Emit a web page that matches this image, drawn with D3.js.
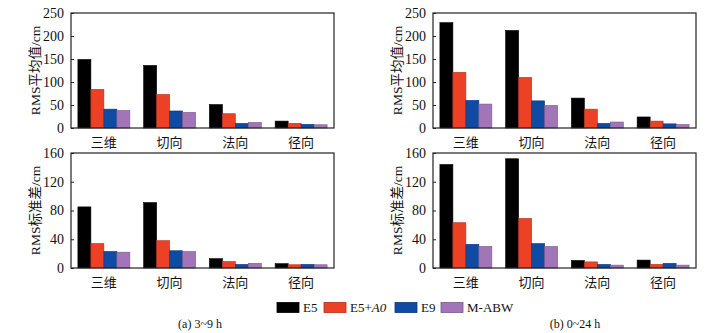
<!DOCTYPE html>
<html>
<head>
<meta charset="utf-8">
<script src="https://cdn.jsdelivr.net/npm/d3@7"></script>
<style>
  body { margin: 0; background: #fff; }
  text { font-family: "Liberation Serif", "Noto Sans CJK SC", serif; fill: #111; }
</style>
</head>
<body>
<div id="chart"></div>
<script>
// categories and series
var categories = ["三维", "切向", "法向", "径向"]
var seriesNames = ["E5", "E5+A0", "E9", "M-ABW"]
var colors = ["#000000", "#ec4124", "#0f4aa3", "#a275b8"]

// (a) 3~9 h
var meanA = [
    [149, 136, 51, 15],
    [84, 73, 31, 10],
    [41, 37, 10, 8],
    [38, 34, 12, 7]
]
var stdA = [
    [85, 91, 13, 6],
    [34, 38, 9, 4.5],
    [23, 24, 5, 5],
    [22, 23, 6.5, 4.5]
]
// (b) 0~24 h
var meanB = [
    [229, 212, 65, 24],
    [121, 110, 41, 15],
    [60, 59, 10, 9],
    [52, 49, 13, 7.5]
]
var stdB = [
    [144, 152, 10.5, 11],
    [63, 69, 8.5, 5],
    [33, 34, 5, 6.5],
    [30, 30, 4, 4]
]

var meanTicks = [0, 50, 100, 150, 200, 250]
var stdTicks = [0, 40, 80, 120, 160]

var width = 713
var height = 333

var svg = d3.select("#chart").append("svg")
    .attr("width", width)
    .attr("height", height)

function drawPanel(left, top, w, h, data, ticks, label, labelX) {
    var g = svg.append("g")
    var x = d3.scaleBand()
        .domain(categories)
        .range([left, left + w])
        .paddingInner(0.21)
        .paddingOuter(0.105)
    var xs = d3.scaleBand()
        .domain(d3.range(seriesNames.length))
        .range([0, x.bandwidth()])
    var y = d3.scaleLinear()
        .domain([0, ticks[ticks.length - 1]])
        .range([top + h, top])

    data.forEach(function(vals, s) {
        g.selectAll(null)
            .data(vals)
            .enter()
            .append("rect")
            .attr("x", (d, i) => x(categories[i]) + xs(s))
            .attr("y", d => y(d))
            .attr("width", xs.bandwidth())
            .attr("height", d => y(0) - y(d))
            .attr("fill", colors[s])
            .attr("stroke", s == 0 ? "#000" : d3.color(colors[s]).darker(0.8))
            .attr("stroke-width", 0.6)
    })

    g.append("rect")
        .attr("x", left)
        .attr("y", top)
        .attr("width", w)
        .attr("height", h)
        .attr("fill", "none")
        .attr("stroke", "#222")
        .attr("stroke-width", 1.2)

    var ax = g.append("g")
        .attr("transform", `translate(${left},0)`)
        .call(d3.axisLeft(y).tickValues(ticks).tickSize(-3).tickPadding(7))
    ax.select(".domain").remove()
    ax.selectAll("line").attr("stroke", "#222")
    ax.selectAll("text")
        .attr("font-size", 14)
        .attr("font-family", "Liberation Serif")
        .attr("fill", "#111")

    g.selectAll(null)
        .data(categories)
        .enter()
        .append("text")
        .attr("x", d => x(d) + x.bandwidth() / 2)
        .attr("y", top + h + 19)
        .attr("text-anchor", "middle")
        .attr("font-size", 13)
        .text(d => d)

    g.append("text")
        .attr("transform", `translate(${labelX},${top + h / 2}) rotate(-90)`)
        .attr("text-anchor", "middle")
        .attr("font-size", 13.5)
        .text(label)
}

drawPanel(71, 13, 263, 115, meanA, meanTicks, "RMS平均值/cm", 40)
drawPanel(433, 13, 263, 115, meanB, meanTicks, "RMS平均值/cm", 402)
drawPanel(71, 153, 263, 115, stdA, stdTicks, "RMS标准差/cm", 40)
drawPanel(433, 153, 263, 115, stdB, stdTicks, "RMS标准差/cm", 402)

// legend
var legendX = [277, 324, 395, 441]
var legend = svg.append("g")
seriesNames.forEach(function(name, i) {
    legend.append("rect")
        .attr("x", legendX[i])
        .attr("y", 302.5)
        .attr("width", 22)
        .attr("height", 10)
        .attr("fill", colors[i])
        .attr("stroke", i == 0 ? "#000" : d3.color(colors[i]).darker(0.8))
        .attr("stroke-width", 0.8)
    var t = legend.append("text")
        .attr("x", legendX[i] + 26)
        .attr("y", 312)
        .attr("font-size", 13)
    if (name == "E5+A0") {
        t.append("tspan").text("E5+")
        t.append("tspan").attr("font-style", "italic").text("A0")
    } else {
        t.text(name)
    }
})

svg.append("text")
    .attr("x", 200)
    .attr("y", 328)
    .attr("text-anchor", "middle")
    .attr("font-size", 12)
    .text("(a) 3~9 h")
svg.append("text")
    .attr("x", 575)
    .attr("y", 328)
    .attr("text-anchor", "middle")
    .attr("font-size", 12)
    .text("(b) 0~24 h")
</script>
</body>
</html>
